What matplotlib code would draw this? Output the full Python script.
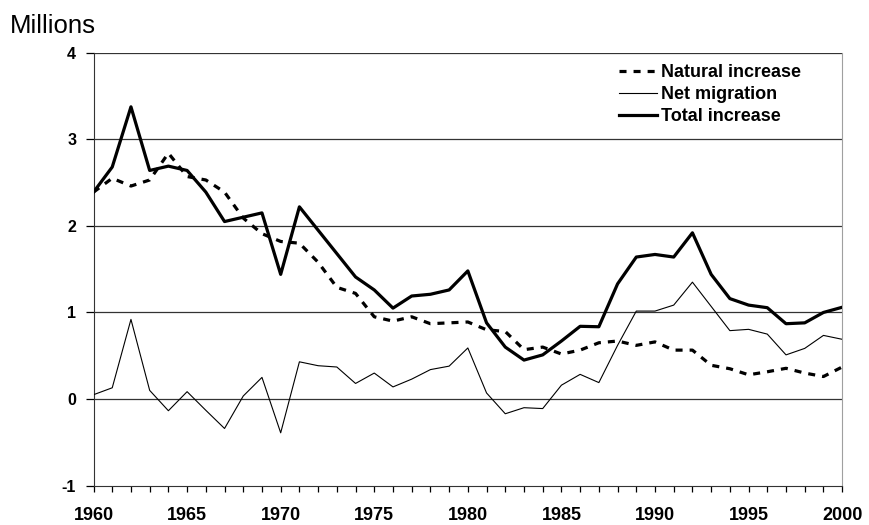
import numpy as np
import matplotlib
matplotlib.use("Agg")
import matplotlib.pyplot as plt

plt.rcParams['font.family'] = ['Liberation Sans', 'DejaVu Sans']

years = list(range(1960, 2001))
natural = [2.39, 2.55, 2.46, 2.53, 2.84, 2.57, 2.53, 2.39, 2.09, 1.91,
           1.82, 1.80, 1.58, 1.29, 1.22, 0.95, 0.90, 0.95, 0.87, 0.88,
           0.89, 0.80, 0.78, 0.57, 0.60, 0.52, 0.565, 0.65, 0.67, 0.62,
           0.66, 0.565, 0.565, 0.39, 0.35, 0.28, 0.315, 0.355, 0.30, 0.26,
           0.37]
net = [0.05, 0.13, 0.92, 0.10, -0.135, 0.085, -0.13, -0.34, 0.035, 0.25,
       -0.39, 0.43, 0.385, 0.37, 0.18, 0.30, 0.14, 0.23, 0.34, 0.38,
       0.59, 0.07, -0.17, -0.10, -0.11, 0.16, 0.285, 0.19, 0.62, 1.016,
       1.016, 1.085, 1.35, 1.07, 0.79, 0.805, 0.75, 0.51, 0.585, 0.735,
       0.69]
total = [2.39, 2.68, 3.375, 2.64, 2.69, 2.64, 2.39, 2.05, 2.10, 2.15,
         1.44, 2.22, 1.95, 1.68, 1.41, 1.26, 1.05, 1.19, 1.21, 1.26,
         1.48, 0.88, 0.60, 0.45, 0.51, 0.67, 0.84, 0.835, 1.33, 1.64,
         1.67, 1.64, 1.92, 1.44, 1.16, 1.085, 1.055, 0.87, 0.88, 1.00,
         1.06]
xlabels = [str(y) if y % 5 == 0 else '' for y in years]
yticks = [-1, 0, 1, 2, 3, 4]

fig = plt.figure(figsize=(8.7, 5.25), dpi=100)
ax = fig.add_axes([0.1075, 0.075, 0.8605, 0.8246])

for v in yticks[1:]:
    ax.axhline(v, color='#333333', lw=0.9, zorder=1)

ax.plot(years, natural, color='black', lw=2.3, linestyle=(0, (2.2, 2.2)),
        label='Natural increase', zorder=3)
ax.plot(years, net, color='black', lw=0.8, label='Net migration', zorder=3)
ax.plot(years, total, color='black', lw=2.3, label='Total increase', zorder=4)

ax.set_xlim(1960, 2000)
ax.set_ylim(-1, 4)
ax.set_xticks(years)
ax.set_xticklabels(xlabels, fontsize=13, fontweight='bold')
ax.set_yticks(yticks)
ax.set_yticklabels([str(v) for v in yticks], fontsize=11.5, fontweight='bold')
ax.tick_params(axis='x', direction='out', length=4, width=0.9, pad=11.5)
ax.tick_params(axis='y', direction='out', length=5.5, width=0.9, pad=7)

ax.spines['top'].set_visible(False)
ax.spines['right'].set_color('#a0a0a0')
ax.spines['left'].set_color('#333333')
ax.spines['bottom'].set_color('#333333')

fig.text(0.0115, 0.937, 'Millions', fontsize=18.5, va='baseline', ha='left')

leg = ax.legend(loc='upper left', bbox_to_anchor=(619 / 870, 1 - 64 / 525),
                bbox_transform=fig.transFigure, frameon=False,
                prop={'size': 13, 'weight': 'bold'}, handlelength=2.1,
                handletextpad=0.2, labelspacing=0.28, borderpad=0,
                borderaxespad=0)

fig.savefig('out.png', dpi=100)
